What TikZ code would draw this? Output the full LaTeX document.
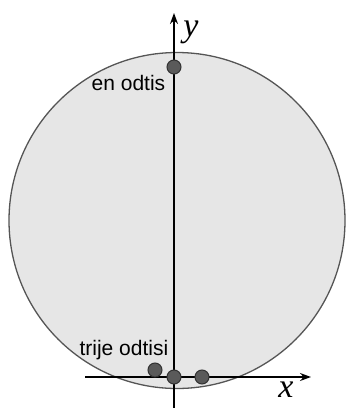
\documentclass[tikz,border=0pt]{standalone}
\usepackage{fontspec}
\setmainfont{Liberation Sans}
\newfontfamily\axisfont{Liberation Serif}
\usetikzlibrary{arrows.meta, positioning}
\definecolor{cfill}{HTML}{E6E6E6}
\definecolor{cedge}{HTML}{555555}
\definecolor{cdot}{HTML}{5A5A5A}
\tikzset{
  every picture/.style={line width=1.5pt},
  axis/.style={-{Stealth[length=11pt, width=8pt]}, draw=black},
  hit/.style={circle, draw=black!80, fill=cdot, line width=1pt, minimum size=14pt, inner sep=0pt},
  label/.style={font=\fontsize{21}{23}\selectfont, inner sep=0pt},
  axlabel/.style={font=\axisfont\itshape\fontsize{34}{34}\selectfont, inner sep=0pt},
}

\begin{document}
\begin{tikzpicture}[x=1pt, y=-1pt]
  \useasboundingbox (0,0) rectangle (347,408);
  % disc
  \draw[cedge, fill=cfill, line width=1.3pt] (177,220.5) circle (168);
  % axes
  \coordinate (ybot) at (174,410);
  \coordinate (ytop) at (174,13);
  \coordinate (xleft) at (85,377);
  \coordinate (xright) at (311,377);
  \draw[axis] (ybot) -- (ytop);
  \draw[axis] (xleft) -- (xright);
  \node[axlabel] (ylab) at (191,32) {y};
  \node[axlabel] (xlab) at (286,390) {x};
  % hits
  \node[hit] (top) at (174,67) {};
  \node[hit] (hit1) at (155,370) {};
  \node[hit] (hit2) at (174,377) {};
  \node[hit] (hit3) at (202,377) {};
  \node[label, anchor=base east] (one) at (166,90) {en odtis};
  \node[label, anchor=base east] (three) at (169,355) {trije odtisi};
\end{tikzpicture}
\end{document}
